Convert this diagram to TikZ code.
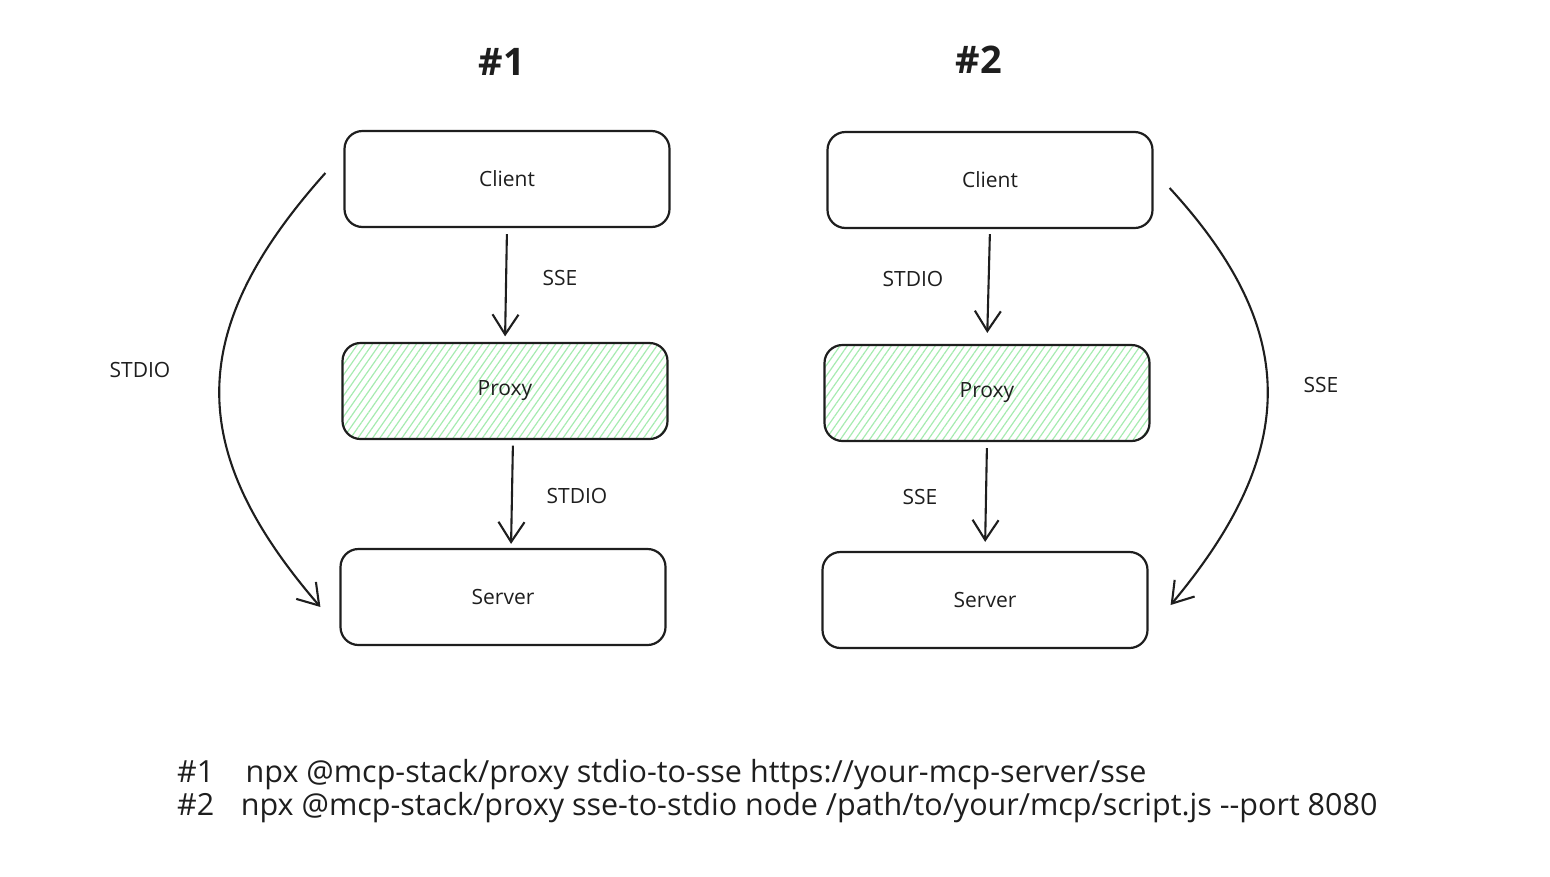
\documentclass[tikz,border=0pt]{standalone}
\usepackage{fontspec}
\setmainfont{Open Sans}
\usetikzlibrary{arrows.meta,patterns.meta}
\definecolor{ink}{HTML}{1E1E1E}
\definecolor{hatch}{HTML}{A6EBB0}

\begin{document}
\begin{tikzpicture}[x=1pt,y=-1pt,
  box/.style={draw=ink,line width=2.2pt,rounded corners=18pt,
    minimum width=325pt,minimum height=96pt,font=\fontsize{21}{24}\selectfont,text=ink},
  hatched/.style={box,pattern={Lines[angle=55,distance=6pt,line width=1.2pt]},pattern color=hatch},
  lbl/.style={font=\fontsize{21}{24}\selectfont,text=ink},
  title/.style={font=\fontsize{38}{44}\selectfont\bfseries,text=ink},
  arr/.style={draw=ink,line width=2.1pt,-{Straight Barb[length=20pt,width=26pt,line width=2.1pt]}},
  cmd/.style={font=\fontsize{30.5}{36}\selectfont,text=ink,anchor=west,inner sep=0pt}]
\useasboundingbox (0,0) rectangle (1550,876);

% titles
\node[title] (t1) at (502,62) {\#1};
\node[title] (t2) at (979,60) {\#2};

% setup #1
\node[box] (client1) at (507,179) {Client};
\node[hatched] (proxy1) at (505,391) {Proxy};
\node[box] (server1) at (503,597) {Server};
\draw[arr,shorten <=6pt,shorten >=6pt] (client1.south) -- (proxy1.north);
\draw[arr,shorten <=6pt,shorten >=4pt] ([xshift=8pt]proxy1.south) -- ([xshift=8pt]server1.north);
\node[lbl] (sse1) at (560,278) {SSE};
\node[lbl] (stdio1b) at (577,496) {STDIO};
\draw[arr] ([xshift=-18pt,yshift=6pt]client1.west) .. controls (185,330) and (185,450) .. ([xshift=-19pt,yshift=-10pt]server1.west);
\node[lbl] (stdio1) at (140,370) {STDIO};

% setup #2
\node[box] (client2) at (990,180) {Client};
\node[hatched] (proxy2) at (987,393) {Proxy};
\node[box] (server2) at (985,600) {Server};
\draw[arr,shorten <=5pt,shorten >=11pt] (client2.south) -- (proxy2.north);
\draw[arr,shorten <=6pt,shorten >=9pt] (proxy2.south) -- (server2.north);
\node[lbl] (stdio2) at (913,279) {STDIO};
\node[lbl] (sse2b) at (920,497) {SSE};
\draw[arr] ([xshift=16pt,yshift=-8pt]client2.east) .. controls (1300,330) and (1300,450) .. ([xshift=22pt,yshift=-5pt]server2.east);
\node[lbl] (sse2) at (1321,385) {SSE};

% commands
\node[cmd] (cmd1) at (177,775) {\#1\hspace{1.03em}npx @mcp-stack/proxy stdio-to-sse https://your-mcp-server/sse};
\node[cmd] (cmd2) at (177,808) {\#2\hspace{0.87em}npx @mcp-stack/proxy sse-to-stdio node /path/to/your/mcp/script.js {-}{-}port 8080};
\end{tikzpicture}
\end{document}
